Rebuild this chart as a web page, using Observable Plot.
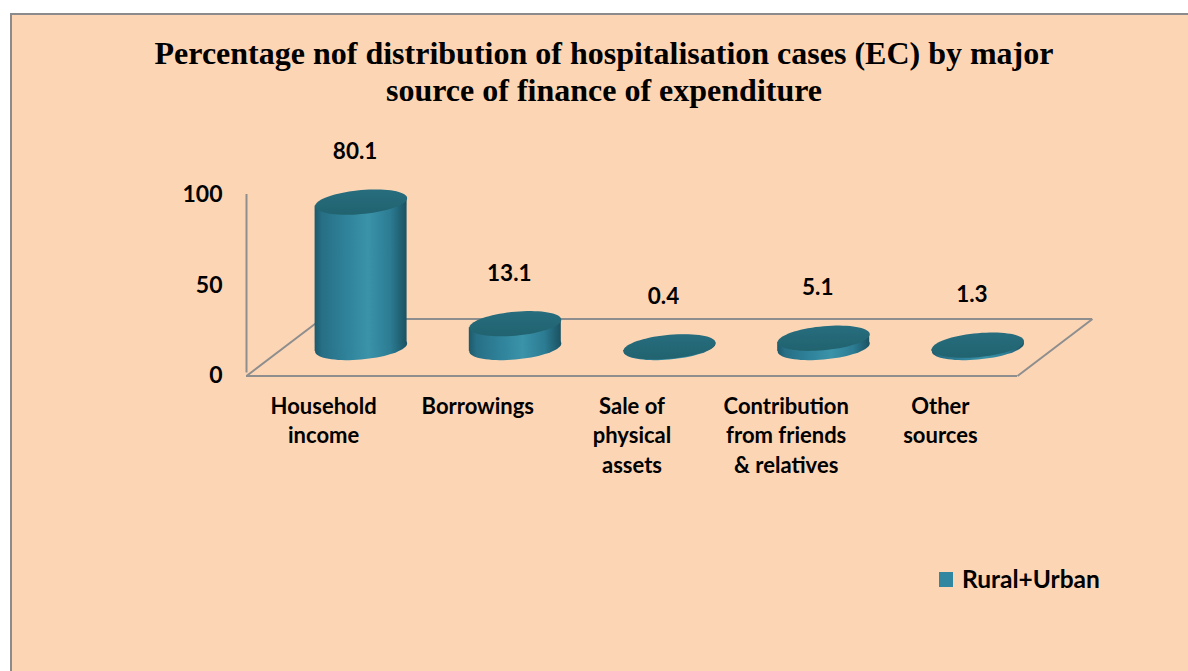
<!DOCTYPE html>
<html><head><meta charset="utf-8">
<script src="https://cdn.jsdelivr.net/npm/d3@7"></script>
<script src="https://cdn.jsdelivr.net/npm/@observablehq/plot@0.6"></script>
<style>
html,body{margin:0;padding:0;background:#fff;width:1188px;height:671px;overflow:hidden;}
#frame{position:absolute;left:10px;top:13px;width:1200px;height:700px;box-sizing:border-box;border-left:2px solid #8b8b8b;border-top:2px solid #8b8b8b;background:#FCD5B5;}
#title{position:absolute;left:0;top:35px;width:1208px;text-align:center;font-family:"Liberation Serif","Times New Roman",serif;font-weight:bold;font-size:32px;line-height:37px;color:#000;margin:0;}
#chart{position:absolute;left:0;top:111px;}
#legend{position:absolute;left:939px;top:565px;display:flex;align-items:center;font-family:Lato,"Open Sans",sans-serif;font-weight:bold;font-size:24.5px;line-height:28px;color:#000;}
#legend .sw{display:inline-block;width:14px;height:15px;background:#31879f;margin-right:9px;}
</style></head><body>
<div id="frame"></div>
<div id="title">Percentage nof distribution of hospitalisation cases (EC) by major<br>source of finance of expenditure</div>
<div id="chart"></div>
<div id="legend"><span class="sw"></span><span id="legtext"></span></div>
<script>
// ---- data ----
const categories = ["Household income", "Borrowings", "Sale of physical assets", "Contribution from friends & relatives", "Other sources"];
const tickLabels = ["Household\nincome", "Borrowings", "Sale of\nphysical\nassets", "Contribution\nfrom friends\n& relatives", "Other\nsources"];
const values = [80.1, 13.1, 0.4, 5.1, 1.3];
const yTicks = [0, 50, 100];
const seriesName = "Rural+Urban";

// ---- layout (pixels) ----
const W = 1188, H = 560;
const mL = 246, mR = 171, mT = 83, mB = 295.5;
const pxPerCat = (W - mL - mR) / categories.length;
const pxPerPct = (H - mT - mB) / 100;
const depthX = 75 / pxPerCat, depthY = 57 / pxPerPct;   // oblique floor depth in data units
const halfW = 46 / pxPerCat, tilt = 4 / pxPerPct;      // cylinder half width, tilt
const base = depthY / 2;
const gridColor = "#8e8e8e";
const fontFam = "Lato, 'Open Sans', sans-serif";

document.getElementById("legtext").textContent = seriesName;

const rows = categories.map((c, i) => ({i, category: c, value: values[i], cx: i + depthX / 2}));
const bodyRows = rows.flatMap(d => [
  {category: d.category, x: d.cx - halfW, y1: base - tilt, y2: base + d.value - tilt},
  {category: d.category, x: d.cx + halfW, y1: base + tilt, y2: base + d.value + tilt}
]);
const lo = -0.5, hi = categories.length - 0.5;
const diagonals = [
  {x1: lo, y1: 0, x2: lo + depthX, y2: depthY},
  {x1: hi, y1: 0, x2: hi + depthX, y2: depthY}
];

const ellipse = {
  draw(ctx, size) {
    const rx = Math.sqrt(size / Math.PI), ry = rx * 12 / 46, k = 4 / 46, n = 72;
    for (let j = 0; j <= n; j++) {
      const t = 2 * Math.PI * j / n;
      const x = rx * Math.cos(t), y = ry * Math.sin(t) - k * x;
      if (j === 0) ctx.moveTo(x, y); else ctx.lineTo(x, y);
    }
    ctx.closePath();
  }
};

const chartSvg = Plot.plot({
  width: W, height: H,
  marginLeft: mL, marginRight: mR, marginTop: mT, marginBottom: mB,
  style: {background: "transparent", fontFamily: fontFam, fontSize: "22px", fontWeight: "bold", color: "#000", overflow: "visible"},
  x: {type: "linear", domain: [lo, hi]},
  y: {type: "linear", domain: [0, 100]},
  marks: [
    // floor
    Plot.ruleY([depthY], {x1: () => lo + depthX, x2: () => hi + depthX, stroke: gridColor, strokeWidth: 2}),
    Plot.link(diagonals, {x1: "x1", y1: "y1", x2: "x2", y2: "y2", stroke: gridColor, strokeWidth: 2}),
    Plot.ruleX([lo], {y1: () => 0, y2: () => 100, insetTop: -3, stroke: gridColor, strokeWidth: 2}),
    Plot.ruleY([0], {x1: () => lo, x2: () => hi, stroke: gridColor, strokeWidth: 2}),
    // cylinders
    Plot.dot(rows, {x: "cx", y: () => base, r: 46, symbol: ellipse, fill: "url(#cylSide)", stroke: "none"}),
    Plot.areaY(bodyRows, {x: "x", y1: "y1", y2: "y2", z: "category", fill: "url(#cylSide)"}),
    Plot.dot(rows, {x: "cx", y: d => base + d.value, r: 46, symbol: ellipse, fill: "url(#cylTop)", stroke: "none"}),
    // value labels
    Plot.text(rows, {x: "cx", y: d => base + d.value, text: d => d3.format(".1f")(d.value), dy: -50, dx: -6, fontSize: 22.5, fontWeight: "bold", fill: "#000"}),
    // axes
    Plot.axisY(yTicks, {anchor: "left", tickSize: 0, tickPadding: 24, fontSize: 23, fontWeight: "bold", label: null}),
    Plot.axisX(d3.range(categories.length), {anchor: "bottom", tickSize: 0, tickPadding: 17, tickFormat: i => tickLabels[i], lineHeight: 1.34, fontSize: 22, fontWeight: "bold", label: null})
  ]
});

const defs = d3.select(chartSvg).insert("defs", ":first-child");
const sideGrad = defs.append("linearGradient").attr("id", "cylSide").attr("x1", 0).attr("x2", 1).attr("y1", 0).attr("y2", 0);
[[0, "#1c5a6c"], [0.08, "#276f85"], [0.35, "#2f839b"], [0.58, "#3a93a9"], [0.82, "#2c7c93"], [1, "#1a5262"]]
  .forEach(([o, c]) => sideGrad.append("stop").attr("offset", o).attr("stop-color", c));
const topGrad = defs.append("linearGradient").attr("id", "cylTop").attr("x1", 0).attr("x2", 0).attr("y1", 0).attr("y2", 1);
[[0, "#276d7e"], [1, "#21636f"]].forEach(([o, c]) => topGrad.append("stop").attr("offset", o).attr("stop-color", c));

document.getElementById("chart").appendChild(chartSvg);
</script>
</body></html>
